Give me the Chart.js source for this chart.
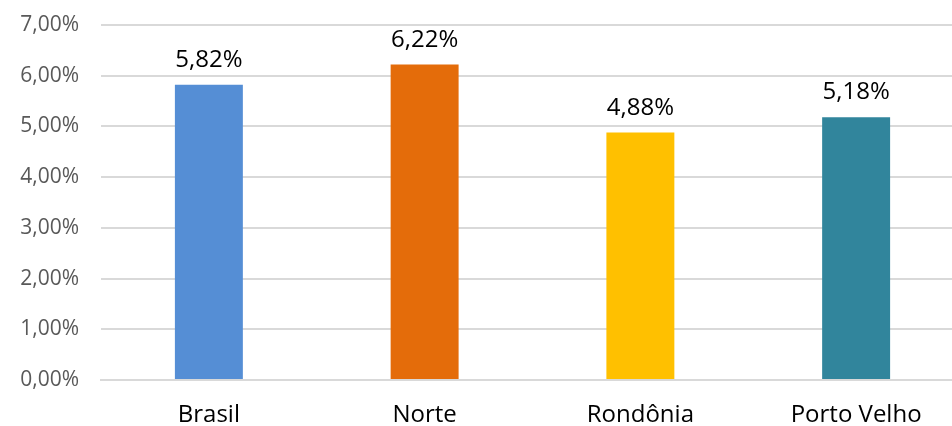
<!DOCTYPE html>
<html>
<head>
<meta charset="utf-8">
<script src="https://cdn.jsdelivr.net/npm/chart.js@4/dist/chart.umd.min.js"></script>
<style>
  html, body { margin: 0; padding: 0; background: #fff; }
  #wrap { width: 952px; height: 426px; }
</style>
</head>
<body>
<div id="wrap"><canvas id="grafico"></canvas></div>
<script>
const categorias = ["Brasil", "Norte", "Rondônia", "Porto Velho"];
const valores = [5.82, 6.22, 4.88, 5.18];
const cores = ["#558ED5", "#E46C0A", "#FFC000", "#31859C"];
const marcasY = [0, 1, 2, 3, 4, 5, 6, 7];

function pct(v) {
  return v.toFixed(2).replace(".", ",") + "%";
}

// o eixo x do original passa um pouco da borda direita
const estenderX = {
  id: "estenderX",
  afterLayout: function(chart) {
    const x = chart.scales.x;
    x.right = x.right + 12;
    x.width = x.right - x.left;
    x.configure();
  }
};

// rótulos de dados acima das barras
const rotulos = {
  id: "rotulos",
  afterDatasetsDraw: function(chart) {
    const ctx = chart.ctx;
    const meta = chart.getDatasetMeta(0);
    ctx.save();
    ctx.font = "24px 'Open Sans'";
    ctx.fillStyle = "#000";
    ctx.textAlign = "center";
    ctx.textBaseline = "alphabetic";
    meta.data.forEach(function(bar, i) {
      ctx.fillText(pct(valores[i]), bar.x, bar.y - 18);
    });
    ctx.restore();
  }
};

new Chart(document.getElementById("grafico"), {
  type: "bar",
  data: {
    labels: categorias,
    datasets: [{
      data: valores,
      backgroundColor: cores,
      barPercentage: 0.315,
      categoryPercentage: 1
    }]
  },
  options: {
    responsive: true,
    maintainAspectRatio: false,
    animation: false,
    layout: { padding: 0 },
    plugins: {
      legend: { display: false },
      tooltip: { enabled: false }
    },
    scales: {
      x: {
        grid: { display: false },
        border: { color: "#d9d9d9", width: 2 },
        ticks: { color: "#000", font: { family: "Open Sans", size: 24 }, padding: 13 },
        afterFit: function(s) {
          s.height = 46;
          s.paddingRight = 0;
          s.paddingLeft = 0;
        }
      },
      y: {
        min: 0,
        max: 7,
        afterBuildTicks: function(s) {
          s.ticks = marcasY.map(function(v) { return { value: v }; });
        },
        ticks: {
          color: "#595959",
          padding: 22,
          font: { family: "Open Sans", size: 21 },
          callback: function(v) { return pct(v); }
        },
        grid: { color: "#d9d9d9", lineWidth: 2, drawTicks: false },
        border: { display: false },
        afterFit: function(s) {
          s.width = 101;
          s.paddingTop = 25;
          s.paddingBottom = 0;
        }
      }
    }
  },
  plugins: [estenderX, rotulos]
});
</script>
</body>
</html>
